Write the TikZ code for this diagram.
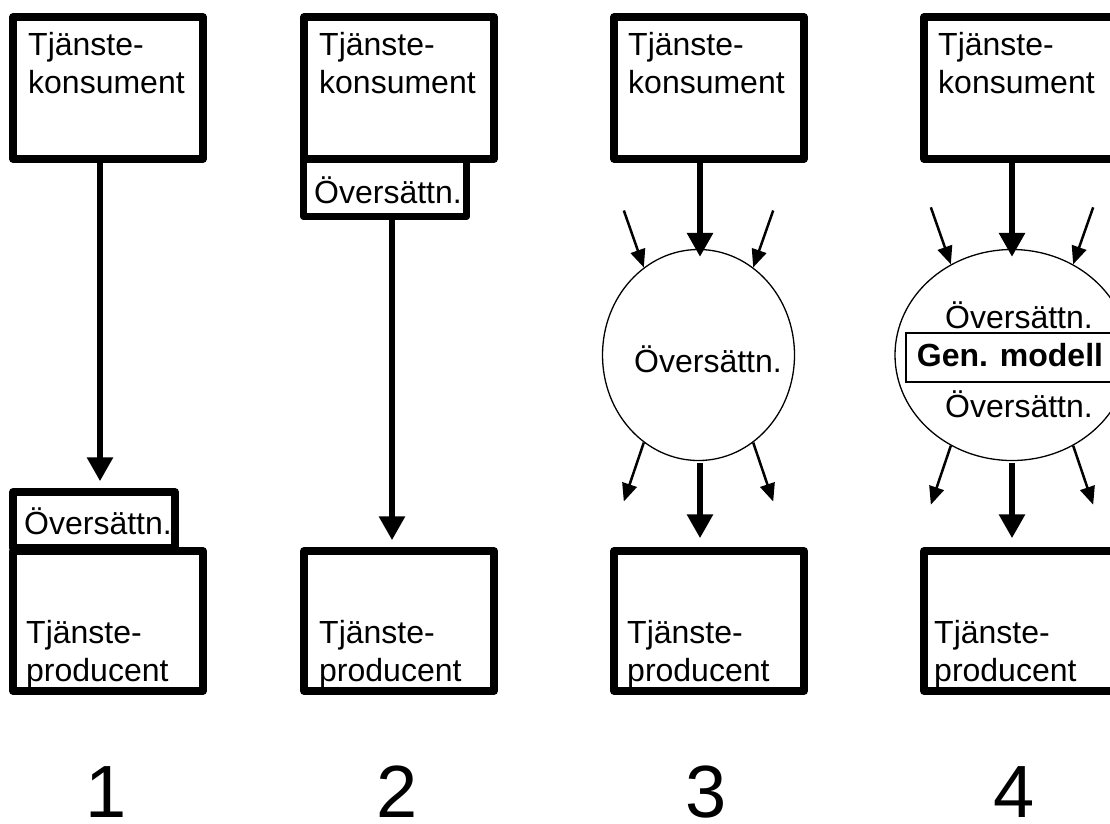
\documentclass[tikz,border=0pt]{standalone}
\usepackage{fontspec}
\setmainfont{Liberation Sans}
\usetikzlibrary{arrows.meta, positioning, shapes.geometric}

\tikzset{
  tjbox/.style={draw, fill=white, line width=7.5pt, line join=round, inner sep=0pt, minimum width=190pt, minimum height=142pt},
  ovbox/.style={draw, fill=white, line width=7.5pt, line join=round, inner sep=0pt},
  genbox/.style={draw, fill=white, line width=1.3pt, inner sep=0pt},
  oval/.style={draw, ellipse, fill=white, line width=1.3pt, inner sep=0pt},
  lbl/.style={font=\fontsize{32pt}{38pt}\selectfont, inner sep=0pt, align=left, anchor=base west},
  num/.style={font=\fontsize{74pt}{80pt}\selectfont, inner sep=0pt, anchor=base},
  bigarrow/.style={-{Triangle[length=24pt,width=25pt]}, line width=6.5pt},
  smallarrow/.style={-{Triangle[length=18pt,width=15pt]}, line width=2.5pt}
}

\begin{document}
% coordinates in pixels, y downwards; two-line labels sit on their last baseline
\begin{tikzpicture}[x=1pt, y=-1pt]
    \useasboundingbox (0,0) rectangle (1110,823);
    \clip (0,0) rectangle (1110,823);

    % 1: translation at the producer
    \node[tjbox] (k1) at (108,88) {};
    \node[lbl] (k1t) at (28,93) {Tjänste-\\konsument};
    \node[ovbox, minimum width=162pt, minimum height=56pt] (o1) at (94,520) {};
    \node[lbl] (o1t) at (24,534) {Översättn.};
    \node[tjbox, minimum height=140pt] (p1) at (108,621) {};
    \node[lbl] (p1t) at (26,681) {Tjänste-\\producent};
    \coordinate (x1) at (100,0);
    \draw[bigarrow, shorten >=7pt] (k1.south -| x1) -- (o1.north -| x1);
    \node[num] (n1) at (106,817) {1};

    % 2: translation at the consumer
    \node[tjbox] (k2) at (399,88) {};
    \node[lbl] (k2t) at (319,93) {Tjänste-\\konsument};
    \node[ovbox, minimum width=163pt, minimum height=57pt] (o2) at (385,188) {};
    \node[lbl] (o2t) at (314,203) {Översättn.};
    \node[tjbox, minimum height=140pt] (p2) at (399,621) {};
    \node[lbl] (p2t) at (319,681) {Tjänste-\\producent};
    \coordinate (x2) at (392,0);
    \draw[bigarrow, shorten >=7pt] (o2.south -| x2) -- (p2.north -| x2);
    \node[num] (n2) at (397,817) {2};

    % 3: translation in between
    \node[tjbox] (k3) at (709,88) {};
    \node[lbl] (k3t) at (628,93) {Tjänste-\\konsument};
    \node[oval, minimum width=192pt, minimum height=211pt] (c3) at (698.5,355) {};
    \node[lbl] (c3t) at (634,372) {Översättn.};
    \node[tjbox, minimum height=140pt] (p3) at (709,621) {};
    \node[lbl] (p3t) at (627,681) {Tjänste-\\producent};
    \coordinate (x3) at (700,0);
    \draw[bigarrow, shorten >=-8pt] (k3.south -| x3) -- (c3.north -| x3);
    \draw[bigarrow, shorten <=2pt, shorten >=9pt] (c3.south -| x3) -- (p3.north -| x3);
    \draw[smallarrow] ([shift={(-20,-57)}]c3.122) -- (c3.122);
    \draw[smallarrow] ([shift={(20,-57)}]c3.58) -- (c3.58);
    \draw[smallarrow] (c3.238) -- ++(-20,59);
    \draw[smallarrow] (c3.302) -- ++(20,59);
    \node[num] (n3) at (706,817) {3};

    % 4: translation via a generic model
    \node[tjbox] (k4) at (1019,88) {};
    \node[lbl] (k4t) at (938,93) {Tjänste-\\konsument};
    \node[oval, minimum width=234pt, minimum height=211pt] (c4) at (1012,355) {};
    \node[lbl] (c4t) at (945,328) {Översättn.};
    \node[genbox, minimum width=208pt, minimum height=49pt] (g4) at (1010,357.5) {};
    \node[lbl, anchor=base] (g4t) at (1010,366) {\bfseries Gen. modell};
    \node[lbl] (c4b) at (945,417) {Översättn.};
    \node[tjbox, minimum height=140pt] (p4) at (1019,621) {};
    \node[lbl] (p4t) at (934,681) {Tjänste-\\producent};
    \coordinate (x4) at (1012,0);
    \draw[bigarrow, shorten >=-8pt] (k4.south -| x4) -- (c4.north -| x4);
    \draw[bigarrow, shorten <=2pt, shorten >=9pt] (c4.south -| x4) -- (p4.north -| x4);
    \draw[smallarrow] ([shift={(-20,-57)}]c4.124) -- (c4.124);
    \draw[smallarrow] ([shift={(20,-57)}]c4.56) -- (c4.56);
    \draw[smallarrow] (c4.236) -- ++(-20,59);
    \draw[smallarrow] (c4.304) -- ++(20,59);
    \node[num] (n4) at (1014,817) {4};
\end{tikzpicture}
\end{document}
